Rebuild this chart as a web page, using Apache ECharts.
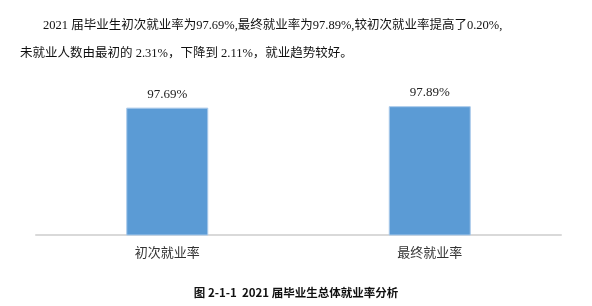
<!DOCTYPE html>
<html>
<head>
<meta charset="utf-8">
<script src="https://cdn.jsdelivr.net/npm/echarts@6/dist/echarts.min.js"></script>
<style>html,body{margin:0;padding:0;background:#fff;}#c{width:592px;height:306px;}</style>
</head>
<body>
<div id="c"></div>
<script>
var categories = ['初次就业率', '最终就业率'];
var rates = [97.69, 97.89];
var introLine1 = '2021 届毕业生初次就业率为97.69%,最终就业率为97.89%,较初次就业率提高了0.20%,';
var introLine2 = '未就业人数由最初的 2.31%，下降到 2.11%，就业趋势较好。';
var caption = '图 2-1-1  2021 届毕业生总体就业率分析';

var serif = '"Liberation Serif", "Noto Sans CJK SC", serif';
var chart = echarts.init(document.getElementById('c'), null, {renderer: 'canvas'});
chart.setOption({
  animation: false,
  backgroundColor: '#fff',
  grid: {left: 36, right: 31, top: 91, bottom: 71},
  xAxis: {
    type: 'category',
    data: categories,
    axisLine: {lineStyle: {color: '#d9d9d9', width: 2}},
    axisTick: {show: false},
    axisLabel: {color: '#333', fontSize: 13, fontFamily: serif, margin: 12}
  },
  yAxis: {
    type: 'value', min: 80, max: 100, interval: 5,
    show: false, splitLine: {show: false}
  },
  series: [{
    type: 'bar',
    data: rates,
    barWidth: 82,
    itemStyle: {color: '#5b9bd5', borderColor: '#a9c9ea', borderWidth: 1},
    label: {
      show: true, position: 'top', distance: 7,
      color: '#222', fontSize: 13, fontFamily: serif,
      formatter: function (p) { return p.value.toFixed(2) + '%'; }
    }
  }],
  graphic: [
    {type: 'text', left: 43, top: 19, style: {text: introLine1, font: '12.5px ' + serif, fill: '#111'}},
    {type: 'text', left: 20, top: 47, style: {text: introLine2, font: '12.5px ' + serif, fill: '#111'}},
    {type: 'text', left: 'center', top: 287, style: {text: caption, font: 'bold 11.5px "Noto Sans CJK SC", sans-serif', fill: '#111'}}
  ]
});
</script>
</body>
</html>
